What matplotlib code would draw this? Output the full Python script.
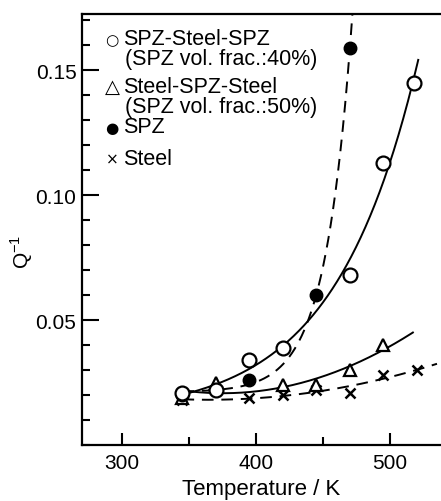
import numpy as np
import matplotlib
matplotlib.use("Agg")
import matplotlib.pyplot as plt
from matplotlib.ticker import MultipleLocator, FixedLocator

# --- data ---
# SPZ-Steel-SPZ (open circles)
t_sss = np.array([345, 370, 395, 420, 470, 495, 518])
q_sss = np.array([0.021, 0.022, 0.034, 0.039, 0.068, 0.113, 0.145])
# Steel-SPZ-Steel (triangles)
t_sps = np.array([345, 370, 420, 445, 470, 495])
q_sps = np.array([0.019, 0.025, 0.024, 0.024, 0.030, 0.040])
# SPZ (filled circles)
t_spz = np.array([345, 395, 445, 470])
q_spz = np.array([0.020, 0.026, 0.060, 0.159])
# Steel (crosses)
t_st = np.array([345, 395, 420, 445, 470, 495, 520])
q_st = np.array([0.018, 0.019, 0.020, 0.022, 0.021, 0.028, 0.030])

# temperature span of each drawn curve
span_sss = (345, 521)
span_sps = (345, 517)
span_spz = (345, 480)
span_st = (345, 535)


def exp_fit(t, q, span):
    # q = a + b*exp(k*(t - tmax)), k from a coarse grid, a and b by least squares
    tm = t.max()
    best = None
    for k in np.linspace(0.001, 0.12, 600):
        A = np.column_stack([np.ones(len(t)), np.exp(k * (t - tm))])
        coef = np.linalg.lstsq(A, q, rcond=None)[0]
        err = np.sum((A @ coef - q) ** 2)
        if best is None or err < best[0]:
            best = (err, k, coef)
    _, k, (a, b) = best
    tt = np.linspace(span[0], span[1], 300)
    return tt, a + b * np.exp(k * (tt - tm))


def quad_fit(t, q, span):
    p = np.polyfit(t, q, 2)
    tt = np.linspace(span[0], span[1], 300)
    return tt, np.polyval(p, tt)


plt.rcParams['font.family'] = ['Liberation Sans', 'DejaVu Sans']
plt.rcParams['mathtext.fontset'] = 'custom'
plt.rcParams['mathtext.rm'] = 'Liberation Sans'

fig = plt.figure(figsize=(4.41, 5.02), dpi=100)
ax = fig.add_axes([82 / 441, 1 - 446 / 502, 359 / 441, 431 / 502])

lw = 1.4
dash = (6, 4)

tt, qq = exp_fit(t_sss, q_sss, span_sss)
ax.plot(tt, qq, color='black', lw=lw)
tt, qq = exp_fit(t_spz, q_spz, span_spz)
ax.plot(tt, qq, color='black', lw=lw, linestyle=(0, dash))
tt, qq = quad_fit(t_sps, q_sps, span_sps)
ax.plot(tt, qq, color='black', lw=lw)
tt, qq = quad_fit(t_st, q_st, span_st)
ax.plot(tt, qq, color='black', lw=lw, linestyle=(0, dash))

ax.plot(t_st, q_st, linestyle='none', marker='x', ms=7, mew=1.8, color='black', zorder=3)
ax.plot(t_sps, q_sps, linestyle='none', marker='^', ms=9, mew=1.6, mfc='white', mec='black', zorder=4)
ax.plot(t_spz, q_spz, linestyle='none', marker='o', ms=9, color='black', zorder=4)
ax.plot(t_sss, q_sss, linestyle='none', marker='o', ms=10, mew=1.6, mfc='white', mec='black', zorder=5)

ax.set_xlim(270, 538)
ax.set_ylim(0, 0.1725)
ax.xaxis.set_major_locator(FixedLocator([300, 400, 500]))
ax.xaxis.set_minor_locator(FixedLocator([350, 450]))
ax.yaxis.set_major_locator(FixedLocator([0.05, 0.10, 0.15]))
ax.yaxis.set_minor_locator(MultipleLocator(0.01))
ax.set_yticklabels(['0.05', '0.10', '0.15'])

ax.tick_params(axis='both', which='both', direction='in', width=1.5, labelsize=15)
ax.tick_params(axis='x', which='major', length=9, pad=6)
ax.tick_params(axis='x', which='minor', length=6)
ax.tick_params(axis='y', which='major', length=12, pad=4)
ax.tick_params(axis='y', which='minor', length=6)

for s in ['left', 'bottom', 'top']:
    ax.spines[s].set_linewidth(1.6)
ax.spines['right'].set_visible(False)

ax.set_xlabel('Temperature / K', fontsize=16, labelpad=4)
ax.set_ylabel(r'Q$^{\mathregular{-1}}$', fontsize=15)
ax.yaxis.set_label_coords(-0.13, 0.45)

# legend written as text
rows = [
    ('○', 'SPZ-Steel-SPZ', 45),
    ('', '(SPZ vol. frac.:40%)', 65),
    ('△', 'Steel-SPZ-Steel', 93),
    ('', '(SPZ vol. frac.:50%)', 113),
    ('●', 'SPZ', 133),
    ('×', 'Steel', 165),
]
for glyph, label, ybase in rows:
    if glyph:
        gsize = 14 if glyph == '△' else 11
        fig.text(112 / 441, 1 - ybase / 502, glyph, ha='center', va='baseline',
                 fontsize=gsize, family=['DejaVu Sans'])
    xl = 123 if glyph else 125
    fig.text(xl / 441, 1 - ybase / 502, label, ha='left', va='baseline', fontsize=15.5)

fig.savefig('out.png', dpi=100)
